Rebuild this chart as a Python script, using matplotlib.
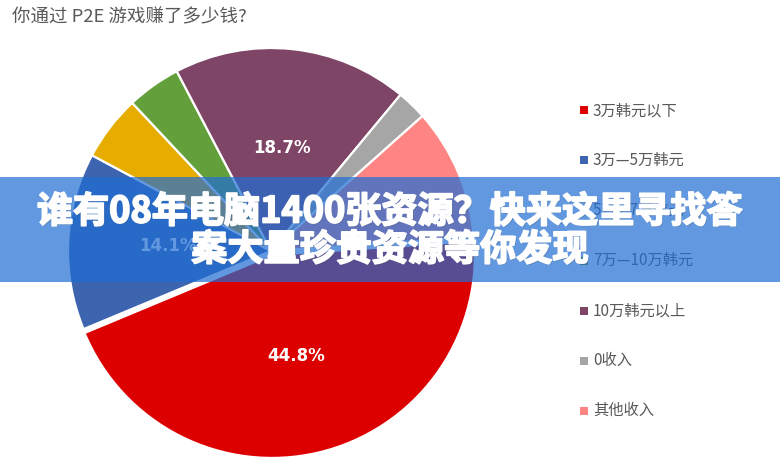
import matplotlib
matplotlib.use('Agg')
import matplotlib.pyplot as plt
from matplotlib.patches import Rectangle
import matplotlib.patheffects as pe

plt.rcParams['font.family'] = ['Noto Sans CJK SC', 'DejaVu Sans']

# data
categories = ['3万韩元以下', '3万—5万韩元', '5万—7万韩元', '7万—10万韩元',
              '10万韩元以上', '0收入', '其他收入']
shares = [44.8, 14.1, 5.2, 4.3, 18.7, 2.4, 10.5]
colors = ['#dd0000', '#3c64af', '#e6ad00', '#63a03c',
          '#7e4566', '#a6a6a6', '#ff8585']
title = '你通过 P2E 游戏赚了多少钱?'
banner_lines = ['谁有08年电脑1400张资源？快来这里寻找答', '案大量珍贵资源等你发现']

W, H = 780, 461
fig = plt.figure(figsize=(W / 100, H / 100), dpi=100)

# pie: centre (270, 251) px, radius 203 px
cx, cy, r = 271, 251, 203
ax = fig.add_axes([(cx - r) / W, (H - cy - r) / H, 2 * r / W, 2 * r / H])
wedges, _, autotexts = ax.pie(
    shares, colors=colors, startangle=3.9, counterclock=False,
    explode=[0.02, 0, 0, 0, 0, 0, 0],
    autopct=lambda p: '{:.1f}%'.format(p) if p > 12 else '',
    pctdistance=0.51,
    wedgeprops=dict(edgecolor='white', linewidth=1.6),
    textprops=dict(color='white', fontsize=12, fontweight='bold',
                   family='DejaVu Sans'),
)
for w in wedges:
    w.set_clip_on(False)
ax.set_xlim(-1, 1)
ax.set_ylim(-1, 1)
ax.axis('off')

fig.text(12 / W, 1 - 17 / H, title, fontsize=13.3, color='#595959',
         ha='left', va='center')

# legend drawn by hand to keep the wide row pitch
leg_x, leg_top, leg_step = 580, 110.5, 50
for i, (lab, col) in enumerate(zip(categories, colors)):
    y = leg_top + leg_step * i
    fig.patches.append(Rectangle(
        (leg_x / W, (H - y - 4) / H), 8 / W, 8 / H,
        transform=fig.transFigure, facecolor=col, edgecolor='none'))
    fig.text((leg_x + 13) / W, 1 - y / H, lab, fontsize=11,
             color='#595959', ha='left', va='center')

# overlay banner
fig.patches.append(Rectangle(
    (0, (H - 282) / H), 1, 105 / H, transform=fig.transFigure,
    facecolor=(32 / 255, 109 / 255, 211 / 255), alpha=0.7,
    edgecolor='none', zorder=10))
for txt, y in zip(banner_lines, [212, 250]):
    fig.text(0.5, 1 - y / H, txt, fontsize=26, fontweight='heavy',
             color='white', ha='center', va='center', zorder=11,
             path_effects=[pe.withSimplePatchShadow(offset=(1, -1),
                                                    alpha=0.25),
                           pe.Stroke(linewidth=1.3, foreground='white'),
                           pe.Normal()])

fig.savefig('out.png', dpi=100)
